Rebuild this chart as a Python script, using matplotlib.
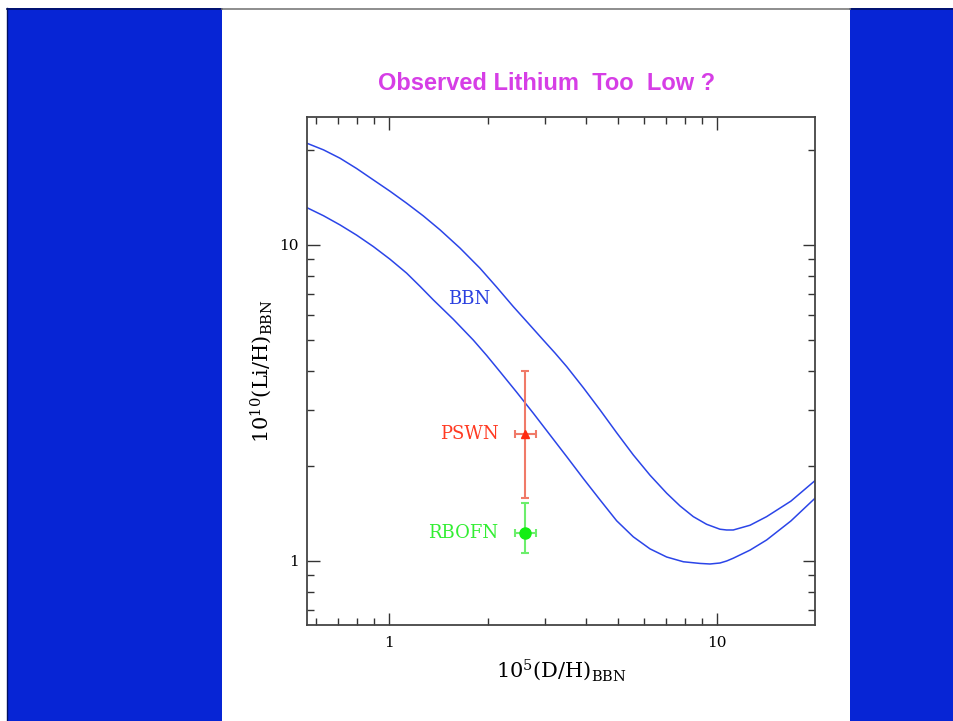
"""Li/H versus D/H from BBN with the observed lithium points."""

import matplotlib

matplotlib.use("Agg")
import matplotlib.pyplot as plt
from matplotlib.patches import Rectangle
from matplotlib.lines import Line2D

# BBN band edges, 10^5 (D/H) against 10^10 (Li/H)
dh_upper = [0.562, 0.6314, 0.709, 0.7967, 0.896, 1.007, 1.132, 1.273, 1.431,
            1.646, 1.894, 2.129, 2.393, 2.659, 2.954, 3.207, 3.482, 3.914,
            4.400, 4.944, 5.557, 6.248, 7.025, 7.714, 8.468, 9.298, 10.21,
            10.70, 11.21, 12.61, 14.17, 16.80, 19.90]
li_upper = [20.98, 19.99, 18.81, 17.45, 16.06, 14.79, 13.55, 12.35, 11.16,
            9.775, 8.44, 7.355, 6.38, 5.649, 5.00, 4.550, 4.12, 3.532,
            3.005, 2.545, 2.165, 1.868, 1.638, 1.493, 1.381, 1.306, 1.260,
            1.253, 1.253, 1.297, 1.381, 1.546, 1.795]

dh_lower = [0.562, 0.6314, 0.709, 0.7967, 0.896, 1.007, 1.132, 1.243, 1.365,
            1.571, 1.807, 1.985, 2.180, 2.450, 2.754, 3.097, 3.482, 3.914,
            4.400, 4.944, 5.557, 6.248, 7.025, 7.898, 8.877, 9.521, 10.21,
            10.70, 11.21, 12.61, 14.17, 16.80, 19.90]
li_lower = [13.12, 12.37, 11.57, 10.74, 9.88, 9.011, 8.14, 7.398, 6.70,
            5.816, 5.00, 4.470, 3.97, 3.420, 2.934, 2.504, 2.138, 1.822,
            1.560, 1.340, 1.192, 1.092, 1.029, 0.994, 0.982, 0.978, 0.985,
            0.9995, 1.020, 1.082, 1.165, 1.338, 1.579]

# observed lithium: x, y, (x minus, x plus), (y minus, y plus)
obs_names = ["PSWN", "RBOFN"]
obs_dh = [2.6, 2.6]
obs_li = [2.52, 1.23]
obs_dh_err = [(0.17, 0.21), (0.17, 0.21)]
obs_li_err = [(0.935, 1.47), (0.17, 0.30)]

xtick_vals = [1, 10]
xtick_labels = ["1", "10"]
ytick_vals = [1, 10]
ytick_labels = ["1", "10"]

W, H = 954, 721
fig = plt.figure(figsize=(W / 100, H / 100), dpi=100)
fig.patch.set_facecolor("white")

band = "#0725d5"


def px_rect(x0, y0, x1, y1, **kw):
    # rectangle given in pixel coords measured from the top-left corner
    return Rectangle((x0 / W, 1 - y1 / H), (x1 - x0) / W, (y1 - y0) / H,
                     transform=fig.transFigure, **kw)


fig.add_artist(px_rect(7, 8, 222, H, facecolor=band, edgecolor="none"))
fig.add_artist(px_rect(850, 8, W + 2, H, facecolor=band, edgecolor="none"))
fig.add_artist(Line2D([7 / W, 222 / W], [1 - 8.5 / H, 1 - 8.5 / H],
                      transform=fig.transFigure, color="#001060", lw=1.2))
fig.add_artist(Line2D([850 / W, 1], [1 - 8.5 / H, 1 - 8.5 / H],
                      transform=fig.transFigure, color="#001060", lw=1.2))
fig.add_artist(Line2D([7.5 / W, 7.5 / W], [0, 1 - 8 / H],
                      transform=fig.transFigure, color="#001060", lw=1.0))
fig.add_artist(Line2D([222 / W, 850 / W], [1 - 8.5 / H, 1 - 8.5 / H],
                      transform=fig.transFigure, color="#7a7a7a", lw=1.2))

fig.text(547 / W, 1 - 83 / H, "Observed Lithium  Too  Low ?",
         ha="center", va="center", fontsize=17, fontweight="bold",
         family="Liberation Sans", color="#d63ee6")

ax = fig.add_axes([307 / W, 1 - 625 / H, 508 / W, 508 / H])
ax.set_xscale("log")
ax.set_yscale("log")
ax.set_xlim(0.5623, 19.9)
ax.set_ylim(0.627, 25.4)

curve_color = "#2b45e8"
ax.plot(dh_upper, li_upper, color=curve_color, lw=1.1,
        solid_joinstyle="round")
ax.plot(dh_lower, li_lower, color=curve_color, lw=1.1,
        solid_joinstyle="round")

styles = [
    dict(bar="#f07a68", mk="#ff2a10", marker="^", ms=6, label="#ff3a22"),
    dict(bar="#6cee6c", mk="#14ee14", marker="o", ms=8, label="#33ee33"),
]
for i, name in enumerate(obs_names):
    st = styles[i]
    ax.errorbar([obs_dh[i]], [obs_li[i]],
                xerr=[[obs_dh_err[i][0]], [obs_dh_err[i][1]]],
                yerr=[[obs_li_err[i][0]], [obs_li_err[i][1]]],
                fmt="none", ecolor=st["bar"], elinewidth=1.5,
                capsize=3, capthick=1.5)
    ax.plot([obs_dh[i]], [obs_li[i]], marker=st["marker"], ms=st["ms"],
            color=st["mk"], ls="none")
    ax.text(obs_dh[i] * 0.83, obs_li[i], name, ha="right", va="center",
            fontsize=13, family="DejaVu Serif", color=st["label"])

ax.text(1.75, 6.75, "BBN", ha="center", va="center", fontsize=13,
        family="DejaVu Serif", color="#2a40e0")

ax.set_xticks(xtick_vals)
ax.set_xticklabels(xtick_labels)
ax.set_yticks(ytick_vals)
ax.set_yticklabels(ytick_labels)
for lab in ax.get_xticklabels() + ax.get_yticklabels():
    lab.set_family("DejaVu Serif")
    lab.set_fontsize(11)

ax.tick_params(which="both", direction="in", top=True, right=True,
               color="#333333", width=1.0)
ax.tick_params(which="major", length=9, pad=8)
ax.tick_params(which="minor", length=5)
ax.tick_params(axis="y", which="major", pad=6)
for sp in ax.spines.values():
    sp.set_color("#444444")
    sp.set_linewidth(1.3)

plt.rcParams["mathtext.fontset"] = "dejavuserif"
ax.set_xlabel(r"$\mathregular{10^5(D/H)_{BBN}}$", fontsize=15,
              family="DejaVu Serif", labelpad=5)
ax.set_ylabel(r"$\mathregular{10^{10}(Li/H)_{BBN}}$", fontsize=15,
              family="DejaVu Serif", labelpad=4)

fig.savefig("out.png", dpi=100, facecolor="white")
